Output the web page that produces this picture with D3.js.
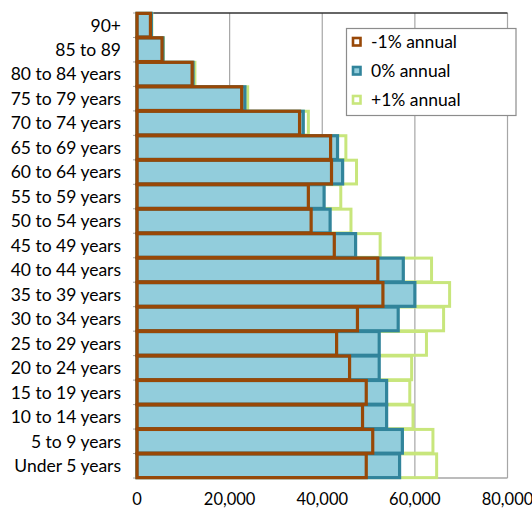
<!DOCTYPE html>
<html><head><meta charset="utf-8">
<script src="https://cdn.jsdelivr.net/npm/d3@7/dist/d3.min.js"></script>
<style>body{margin:0;background:#fff}svg{display:block}text{font-family:Lato,"Open Sans",sans-serif;fill:#000}</style>
</head><body>
<script>
const categories = ["90+","85 to 89","80 to 84 years","75 to 79 years","70 to 74 years","65 to 69 years","60 to 64 years","55 to 59 years","50 to 54 years","45 to 49 years","40 to 44 years","35 to 39 years","30 to 34 years","25 to 29 years","20 to 24 years","15 to 19 years","10 to 14 years","5 to 9 years ","Under 5 years"];
const minus1 = [2900,5400,11900,22600,35100,41800,42000,37000,37600,42600,52000,53100,47600,43100,45900,49500,48700,50900,49500];
const zero   = [3100,5600,12100,23300,35900,43300,44400,40400,41700,47200,57500,60000,56400,52300,52300,53900,53900,57300,56700];
const plus1  = [3200,5700,12500,23900,37000,45100,47400,44000,46200,52500,63600,67500,66200,62500,59300,58900,59600,63900,64700];
const xTicks = [0,20000,40000,60000,80000];
const seriesNames = ["-1% annual","0% annual","+1% annual"];

const W=532,H=508;
const svg=d3.select("body").append("svg").attr("width",W).attr("height",H);
const x=d3.scaleLinear().domain([0,80000]).range([137,507.5]);
const y=d3.scaleBand().domain(categories).range([13,478]).paddingInner(0.03).paddingOuter(0.015);

// gridlines
svg.append("g").selectAll("line").data(xTicks.slice(1)).join("line")
  .attr("x1",d=>x(d)).attr("x2",d=>x(d)).attr("y1",13).attr("y2",478)
  .attr("stroke","#a6a6a6").attr("stroke-width",1.2);
// top border
svg.append("line").attr("x1",x(0)).attr("x2",x(80000)).attr("y1",13).attr("y2",13).attr("stroke","#333").attr("stroke-width",1.3);
// bottom axis
svg.append("line").attr("x1",x(0)-1).attr("x2",x(80000)).attr("y1",478).attr("y2",478).attr("stroke","#a6a6a6").attr("stroke-width",1.3);
// left axis + ticks
svg.append("line").attr("x1",x(0)).attr("x2",x(0)).attr("y1",13).attr("y2",478).attr("stroke","#a6a6a6");
svg.append("g").selectAll("line").data(d3.range(categories.length+1)).join("line")
  .attr("x1",x(0)-4).attr("x2",x(0)).attr("y1",i=>13+i*(465/categories.length)).attr("y2",i=>13+i*(465/categories.length))
  .attr("stroke","#a6a6a6");

function bars(vals,fill,stroke,sw){
  svg.append("g").selectAll("rect").data(categories).join("rect")
    .attr("x",x(0)).attr("y",d=>y(d))
    .attr("width",(d,i)=>x(vals[i])-x(0)).attr("height",y.bandwidth())
    .attr("fill",fill).attr("stroke",stroke).attr("stroke-width",sw);
}
bars(plus1,"none","#c8e67c",3);
bars(zero,"#92cddc","#31849b",3.2);
bars(minus1,"none","#984807",3.2);

// category labels
svg.append("g").selectAll("text").data(categories).join("text")
  .attr("x",121).attr("y",d=>y(d)+y.bandwidth()/2).attr("dy","0.36em")
  .attr("text-anchor","end").style("font-size","17.5px").text(d=>d);
// x tick labels
svg.append("g").selectAll("text").data(xTicks).join("text")
  .attr("x",d=>x(d)).attr("y",505).attr("text-anchor","middle").style("font-size","16.5px")
  .text(d=>d3.format(",")(d));

// legend
const lg=svg.append("g");
lg.append("rect").attr("x",346.5).attr("y",28.5).attr("width",169.5).attr("height",87).attr("fill","#fff").attr("stroke","#8c8c8c").attr("stroke-width",1.2);
const lcol=[["#984807","#fff"],["#31849b","#92cddc"],["#c8e67c","#fff"]];
seriesNames.forEach((n,i)=>{
  const cy=42+i*29;
  lg.append("rect").attr("x",353).attr("y",cy-4).attr("width",7.5).attr("height",7.5)
    .attr("fill",lcol[i][1]).attr("stroke",lcol[i][0]).attr("stroke-width",2.6);
  lg.append("text").attr("x",371).attr("y",cy).attr("dy","0.36em").style("font-size","17.5px").text(n);
});
</script>
</body></html>
